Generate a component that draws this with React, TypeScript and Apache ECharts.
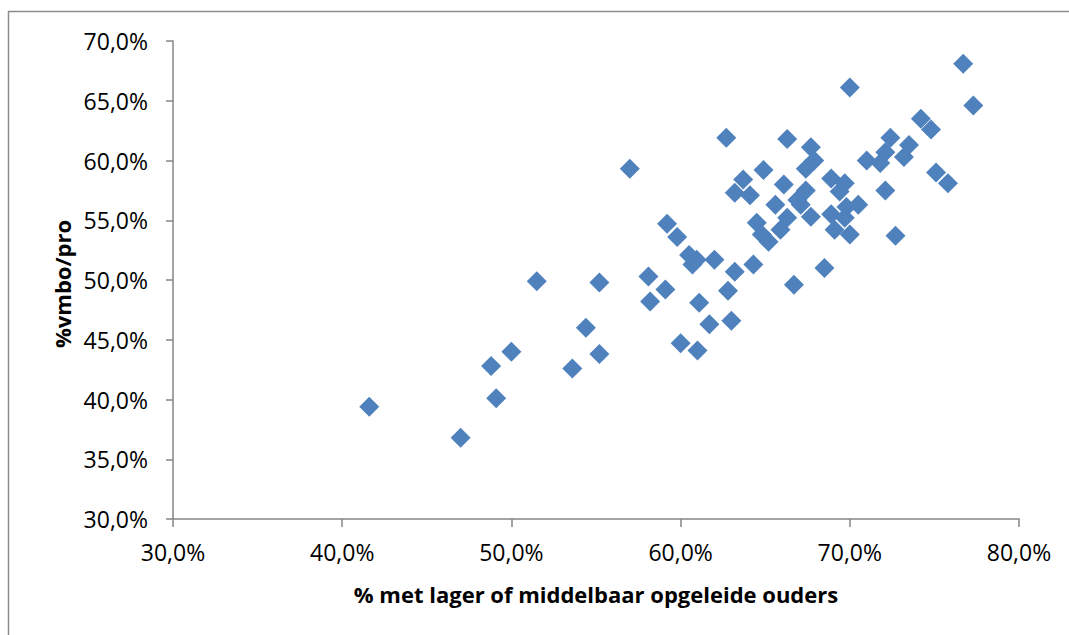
import React, { useEffect, useRef } from "react";
import * as echarts from "echarts";

const xValues = [
  41.6, 47.0, 48.8, 49.1, 50.0, 51.5, 53.6, 54.4, 55.2, 55.2,
  57.0, 58.1, 58.2, 59.1, 59.2, 59.8, 60.0, 60.5, 60.95, 60.7,
  61.0, 61.1, 61.7, 62.0, 62.7, 62.8, 63.0, 63.2, 63.2, 63.7,
  64.1, 64.3, 64.5, 64.8, 64.9, 65.2, 65.6, 65.9, 66.1, 66.3,
  66.3, 66.7, 66.9, 67.1, 67.4, 67.4, 67.7, 67.7, 67.9, 68.5,
  68.9, 68.9, 69.1, 69.4, 69.7, 69.7, 69.8, 70.0, 70.0, 70.5,
  71.0, 71.8, 72.1, 72.1, 72.4, 72.7, 73.2, 73.5, 74.2, 74.8,
  75.1, 75.8, 76.7, 77.3,
];
const yValues = [
  39.4, 36.8, 42.8, 40.1, 44.0, 49.9, 42.6, 46.0, 43.8, 49.8,
  59.3, 50.3, 48.2, 49.2, 54.7, 53.6, 44.7, 52.1, 51.7, 51.3,
  44.1, 48.1, 46.3, 51.7, 61.9, 49.1, 46.6, 50.7, 57.3, 58.4,
  57.1, 51.3, 54.8, 53.8, 59.2, 53.2, 56.3, 54.2, 58.0, 61.8,
  55.2, 49.6, 56.7, 56.3, 59.3, 57.5, 61.1, 55.3, 60.0, 51.0,
  58.5, 55.5, 54.2, 57.4, 58.1, 55.2, 56.1, 53.8, 66.1, 56.3,
  60.0, 59.8, 60.7, 57.5, 61.9, 53.7, 60.3, 61.3, 63.5, 62.6,
  59.0, 58.1, 68.1, 64.6,
];
const xTitle = "% met lager of middelbaar opgeleide ouders";
const yTitle = "%vmbo/pro";

const fmt = (v: number) => v.toFixed(1).replace(".", ",") + "%";

export default function App() {
  const ref = useRef<HTMLDivElement>(null);
  useEffect(() => {
    if (!ref.current) return;
    const chart = echarts.init(ref.current, null, { renderer: "svg" });
    const font = "'Open Sans', 'Liberation Sans', sans-serif";
    const axisColor = "#868686";
    chart.setOption({
      animation: false,
      backgroundColor: "#ffffff",
      grid: { left: 173, top: 41, width: 846, height: 478, containLabel: false },
      xAxis: {
        type: "value",
        min: 30,
        max: 80,
        interval: 10,
        axisLine: { show: true, lineStyle: { color: axisColor, width: 1.5 } },
        axisTick: { show: true, inside: false, length: 8, lineStyle: { color: axisColor, width: 1.5 } },
        splitLine: { show: false },
        axisLabel: { formatter: fmt, color: "#000", fontFamily: font, fontSize: 23, margin: 21 },
      },
      yAxis: {
        type: "value",
        min: 30,
        max: 70,
        interval: 5,
        axisLine: { show: true, lineStyle: { color: axisColor, width: 1.5 } },
        axisTick: { show: true, inside: false, length: 7, lineStyle: { color: axisColor, width: 1.5 } },
        splitLine: { show: false },
        axisLabel: { formatter: fmt, color: "#000", fontFamily: font, fontSize: 23, margin: 25 },
      },
      series: [
        {
          type: "scatter",
          symbol: "diamond",
          symbolSize: 20,
          itemStyle: { color: "#4F81BD", opacity: 1 },
          data: xValues.map((x, i) => [x, yValues[i]]),
        },
      ],
      graphic: [
        { type: "line", shape: { x1: 8, y1: 11.5, x2: 1069, y2: 11.5 }, style: { stroke: "#8c8c8c", lineWidth: 1.5 } },
        { type: "line", shape: { x1: 8.5, y1: 11, x2: 8.5, y2: 635 }, style: { stroke: "#8c8c8c", lineWidth: 1.5 } },
        {
          type: "text",
          x: 596,
          y: 594,
          style: {
            text: xTitle,
            fontFamily: font,
            fontSize: 22,
            fontWeight: "bold",
            fill: "#000",
            textAlign: "center",
            textVerticalAlign: "middle",
          },
        },
        {
          type: "text",
          x: 62,
          y: 284,
          rotation: Math.PI / 2,
          style: {
            text: yTitle,
            fontFamily: font,
            fontSize: 22,
            fontWeight: "bold",
            fill: "#000",
            textAlign: "center",
            textVerticalAlign: "middle",
          },
        },
      ],
    });
    return () => chart.dispose();
  }, []);
  return (
    <div
      ref={ref}
      style={{ position: "fixed", left: 0, top: 0, width: 1069, height: 635 }}
    />
  );
}
